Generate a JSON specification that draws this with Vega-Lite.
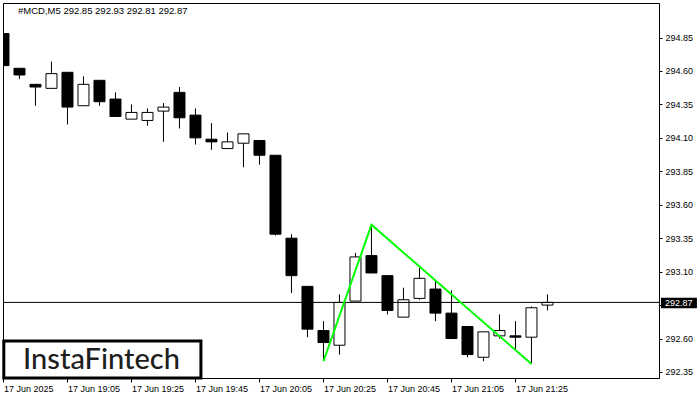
{
  "$schema": "https://vega.github.io/schema/vega-lite/v6.json",
  "width": 656,
  "height": 375,
  "autosize": "none",
  "padding": {"left": 3, "top": 3, "right": 41, "bottom": 22},
  "background": "white",
  "config": {
    "view": {"stroke": "black", "strokeWidth": 1},
    "axis": {"labelFont": "Liberation Sans", "labelFontSize": 9, "labelColor": "black", "tickColor": "black", "domain": false, "grid": false, "title": null, "labelOverlap": false}
  },
  "datasets": {
    "candles": [
      {"t": "2025-06-17T18:45:00", "open": 294.88, "high": 294.90, "low": 294.60, "close": 294.64},
      {"t": "2025-06-17T18:50:00", "open": 294.62, "high": 294.62, "low": 294.54, "close": 294.57},
      {"t": "2025-06-17T18:55:00", "open": 294.50, "high": 294.50, "low": 294.34, "close": 294.48},
      {"t": "2025-06-17T19:00:00", "open": 294.47, "high": 294.67, "low": 294.47, "close": 294.58},
      {"t": "2025-06-17T19:05:00", "open": 294.59, "high": 294.59, "low": 294.20, "close": 294.33},
      {"t": "2025-06-17T19:10:00", "open": 294.34, "high": 294.56, "low": 294.34, "close": 294.50},
      {"t": "2025-06-17T19:15:00", "open": 294.53, "high": 294.53, "low": 294.34, "close": 294.37},
      {"t": "2025-06-17T19:20:00", "open": 294.39, "high": 294.44, "low": 294.26, "close": 294.26},
      {"t": "2025-06-17T19:25:00", "open": 294.24, "high": 294.35, "low": 294.24, "close": 294.29},
      {"t": "2025-06-17T19:30:00", "open": 294.23, "high": 294.32, "low": 294.19, "close": 294.29},
      {"t": "2025-06-17T19:35:00", "open": 294.30, "high": 294.36, "low": 294.07, "close": 294.33},
      {"t": "2025-06-17T19:40:00", "open": 294.44, "high": 294.48, "low": 294.17, "close": 294.25},
      {"t": "2025-06-17T19:45:00", "open": 294.27, "high": 294.32, "low": 294.05, "close": 294.10},
      {"t": "2025-06-17T19:50:00", "open": 294.09, "high": 294.21, "low": 294.01, "close": 294.07},
      {"t": "2025-06-17T19:55:00", "open": 294.02, "high": 294.14, "low": 294.02, "close": 294.07},
      {"t": "2025-06-17T20:00:00", "open": 294.06, "high": 294.13, "low": 293.88, "close": 294.13},
      {"t": "2025-06-17T20:05:00", "open": 294.08, "high": 294.08, "low": 293.90, "close": 293.97},
      {"t": "2025-06-17T20:10:00", "open": 293.97, "high": 293.97, "low": 293.37, "close": 293.38},
      {"t": "2025-06-17T20:15:00", "open": 293.35, "high": 293.38, "low": 292.94, "close": 293.07},
      {"t": "2025-06-17T20:20:00", "open": 292.99, "high": 292.99, "low": 292.61, "close": 292.67},
      {"t": "2025-06-17T20:25:00", "open": 292.66, "high": 292.73, "low": 292.44, "close": 292.57},
      {"t": "2025-06-17T20:30:00", "open": 292.55, "high": 292.93, "low": 292.48, "close": 292.87},
      {"t": "2025-06-17T20:35:00", "open": 292.88, "high": 293.24, "low": 292.88, "close": 293.21},
      {"t": "2025-06-17T20:40:00", "open": 293.22, "high": 293.45, "low": 293.09, "close": 293.09},
      {"t": "2025-06-17T20:45:00", "open": 293.07, "high": 293.07, "low": 292.78, "close": 292.81},
      {"t": "2025-06-17T20:50:00", "open": 292.76, "high": 292.98, "low": 292.76, "close": 292.89},
      {"t": "2025-06-17T20:55:00", "open": 292.90, "high": 293.13, "low": 292.89, "close": 293.05},
      {"t": "2025-06-17T21:00:00", "open": 292.97, "high": 293.03, "low": 292.73, "close": 292.79},
      {"t": "2025-06-17T21:05:00", "open": 292.79, "high": 292.96, "low": 292.60, "close": 292.60},
      {"t": "2025-06-17T21:10:00", "open": 292.69, "high": 292.69, "low": 292.46, "close": 292.48},
      {"t": "2025-06-17T21:15:00", "open": 292.46, "high": 292.65, "low": 292.43, "close": 292.65},
      {"t": "2025-06-17T21:20:00", "open": 292.62, "high": 292.78, "low": 292.60, "close": 292.66},
      {"t": "2025-06-17T21:25:00", "open": 292.62, "high": 292.73, "low": 292.52, "close": 292.61},
      {"t": "2025-06-17T21:30:00", "open": 292.61, "high": 292.84, "low": 292.41, "close": 292.83},
      {"t": "2025-06-17T21:35:00", "open": 292.85, "high": 292.93, "low": 292.81, "close": 292.87}
    ],
    "pattern": [
      {"t": "2025-06-17T20:25:00", "price": 292.43},
      {"t": "2025-06-17T20:40:00", "price": 293.45},
      {"t": "2025-06-17T21:30:00", "price": 292.41}
    ]
  },
  "layer": [
    {
      "data": {"name": "candles"},
      "mark": {"type": "rule", "color": "black", "strokeWidth": 1, "clip": true},
      "encoding": {
        "x": {
          "field": "t", "type": "temporal",
          "scale": {"padding": 0, "domain": [
            {"year": 2025, "month": 6, "date": 17, "hours": 18, "minutes": 44, "seconds": 51},
            {"year": 2025, "month": 6, "date": 17, "hours": 22, "minutes": 9, "seconds": 51}
          ]},
          "axis": {
            "orient": "bottom",
            "values": [
              {"year": 2025, "month": 6, "date": 17, "hours": 18, "minutes": 45},
              {"year": 2025, "month": 6, "date": 17, "hours": 19, "minutes": 5},
              {"year": 2025, "month": 6, "date": 17, "hours": 19, "minutes": 25},
              {"year": 2025, "month": 6, "date": 17, "hours": 19, "minutes": 45},
              {"year": 2025, "month": 6, "date": 17, "hours": 20, "minutes": 5},
              {"year": 2025, "month": 6, "date": 17, "hours": 20, "minutes": 25},
              {"year": 2025, "month": 6, "date": 17, "hours": 20, "minutes": 45},
              {"year": 2025, "month": 6, "date": 17, "hours": 21, "minutes": 5},
              {"year": 2025, "month": 6, "date": 17, "hours": 21, "minutes": 25}
            ],
            "labelExpr": "hours(datum.value) == 18 ? '17 Jun 2025' : timeFormat(datum.value, '%d %b %H:%M')",
            "labelAlign": "left",
            "labelFlush": false,
            "labelOverlap": false,
            "tickCount": 30,
            "tickSize": 4,
            "labelPadding": 2
          }
        },
        "y": {"field": "low", "type": "quantitative",
          "scale": {"domain": [292.305, 295.108], "zero": false, "nice": false},
          "axis": {
            "orient": "right",
            "values": [292.35, 292.6, 292.85, 293.1, 293.35, 293.6, 293.85, 294.1, 294.35, 294.6, 294.85],
            "tickCount": 30,
            "format": ".2f",
            "labelExpr": "abs(datum.value - 292.85) < 0.001 ? '' : datum.label",
            "tickSize": 3,
            "labelPadding": 3,
            "labelAlign": "left",
            "labelOverlap": false,
            "labelFlush": false
          }
        },
        "y2": {"field": "high"}
      }
    },
    {
      "data": {"name": "candles"},
      "mark": {"type": "bar", "size": 11, "stroke": "black", "strokeWidth": 1, "clip": true},
      "encoding": {
        "x": {"field": "t", "type": "temporal"},
        "y": {"field": "open", "type": "quantitative"},
        "y2": {"field": "close"},
        "fill": {"condition": {"test": "datum.close >= datum.open", "value": "white"}, "value": "black"}
      }
    },
    {
      "data": {"values": [{}]},
      "mark": {"type": "rule", "color": "black", "strokeWidth": 1},
      "encoding": {
        "y": {"datum": 292.87, "type": "quantitative"}
      }
    },
    {
      "data": {"name": "pattern"},
      "mark": {"type": "line", "color": "#00ff00", "strokeWidth": 2},
      "encoding": {
        "x": {"field": "t", "type": "temporal"},
        "y": {"field": "price", "type": "quantitative"}
      }
    },
    {
      "data": {"values": [{}]},
      "mark": {"type": "rect", "fill": "white", "stroke": "black", "strokeWidth": 3},
      "encoding": {
        "x": {"datum": {"year": 2025, "month": 6, "date": 17, "hours": 18, "minutes": 45, "seconds": 6}, "type": "temporal"},
        "x2": {"datum": {"year": 2025, "month": 6, "date": 17, "hours": 19, "minutes": 46, "seconds": 42}},
        "y": {"datum": 292.582, "type": "quantitative"},
        "y2": {"datum": 292.305}
      }
    },
    {
      "data": {"values": [{}]},
      "mark": {"type": "text", "text": "InstaFintech", "font": "Lato", "fontSize": 29, "fontWeight": 500, "color": "#1e1e1e", "align": "center", "baseline": "middle"},
      "encoding": {
        "x": {"datum": {"year": 2025, "month": 6, "date": 17, "hours": 19, "minutes": 15, "seconds": 37}, "type": "temporal"},
        "y": {"datum": 292.44, "type": "quantitative"}
      }
    },
    {
      "data": {"values": [{}]},
      "mark": {"type": "text", "text": "#MCD,M5  292.85 292.93 292.81 292.87", "font": "Liberation Sans", "fontSize": 9.5, "color": "black", "align": "left", "baseline": "middle"},
      "encoding": {
        "x": {"datum": {"year": 2025, "month": 6, "date": 17, "hours": 18, "minutes": 49, "seconds": 32}, "type": "temporal"},
        "y": {"datum": 295.048, "type": "quantitative"}
      }
    },
    {
      "data": {"values": [{}]},
      "mark": {"type": "rect", "fill": "black", "clip": false},
      "encoding": {
        "x": {"datum": {"year": 2025, "month": 6, "date": 17, "hours": 22, "minutes": 10, "seconds": 28}, "type": "temporal"},
        "x2": {"datum": {"year": 2025, "month": 6, "date": 17, "hours": 22, "minutes": 21, "seconds": 42}},
        "y": {"datum": 292.905, "type": "quantitative"},
        "y2": {"datum": 292.826}
      }
    },
    {
      "data": {"values": [{}]},
      "mark": {"type": "text", "text": "292.87", "font": "Liberation Sans", "fontSize": 9, "color": "white", "align": "left", "baseline": "middle", "clip": false},
      "encoding": {
        "x": {"datum": {"year": 2025, "month": 6, "date": 17, "hours": 22, "minutes": 11, "seconds": 43}, "type": "temporal"},
        "y": {"datum": 292.867, "type": "quantitative"}
      }
    }
  ]
}
